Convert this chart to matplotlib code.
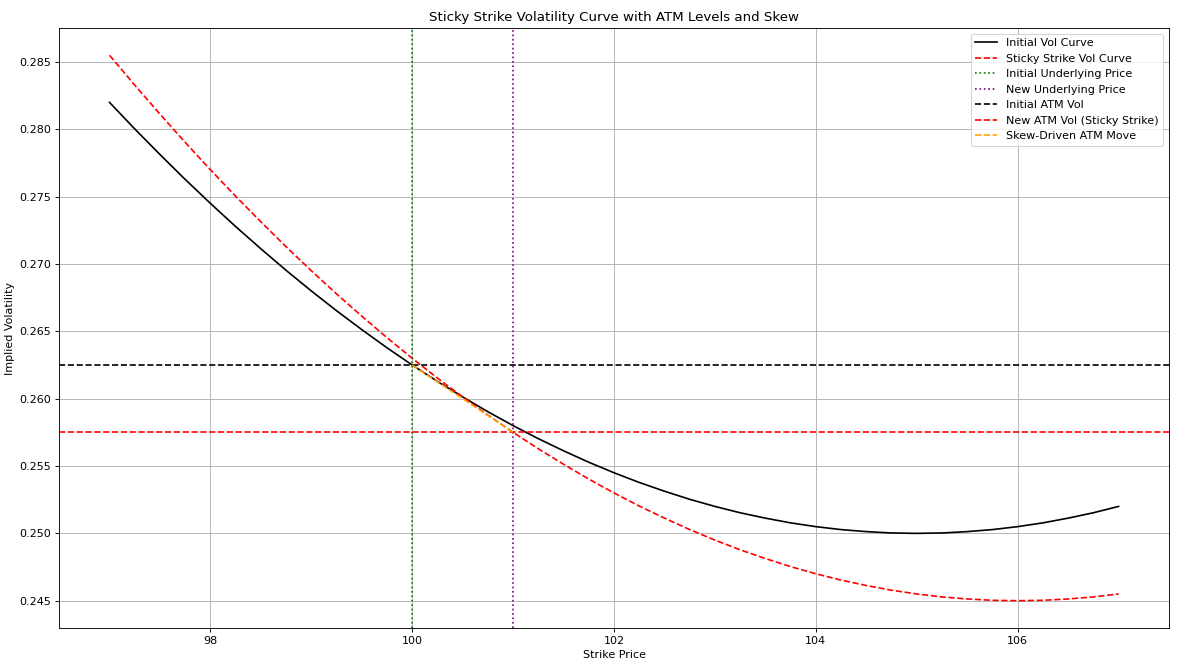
import matplotlib.pyplot as plt

# strikes and vols
strikes = [97.0, 97.25, 97.5, 97.75, 98.0, 98.25, 98.5, 98.75, 99.0, 99.25, 99.5, 99.75,
           100.0, 100.25, 100.5, 100.75, 101.0, 101.25, 101.5, 101.75, 102.0, 102.25, 102.5, 102.75,
           103.0, 103.25, 103.5, 103.75, 104.0, 104.25, 104.5, 104.75, 105.0, 105.25, 105.5, 105.75,
           106.0, 106.25, 106.5, 106.75, 107.0]
initial_vol = [0.28200, 0.28003, 0.27813, 0.27628, 0.27450, 0.27278, 0.27113, 0.26953, 0.26800, 0.26653,
               0.26513, 0.26378, 0.26250, 0.26128, 0.26013, 0.25903, 0.25800, 0.25703, 0.25613, 0.25528,
               0.25450, 0.25378, 0.25313, 0.25253, 0.25200, 0.25153, 0.25113, 0.25078, 0.25050, 0.25028,
               0.25013, 0.25003, 0.25000, 0.25003, 0.25013, 0.25028, 0.25050, 0.25078, 0.25113, 0.25153,
               0.25200]
sticky_vol = [0.28550, 0.28328, 0.28113, 0.27903, 0.27700, 0.27503, 0.27313, 0.27128, 0.26950, 0.26778,
              0.26613, 0.26453, 0.26300, 0.26153, 0.26013, 0.25878, 0.25750, 0.25628, 0.25513, 0.25403,
              0.25300, 0.25203, 0.25113, 0.25028, 0.24950, 0.24878, 0.24813, 0.24753, 0.24700, 0.24653,
              0.24613, 0.24578, 0.24550, 0.24528, 0.24513, 0.24503, 0.24500, 0.24503, 0.24513, 0.24528,
              0.24550]

spot_initial = 100
spot_new = 101
atm_initial = 0.2625
atm_new = 0.2575
skew_move_x = [100, 101]
skew_move_y = [0.2625, 0.2575]

DPI = 80
fig, ax = plt.subplots(figsize=(1182 / DPI, 667 / DPI), dpi=DPI)
fig.subplots_adjust(left=0.050, right=0.989, top=0.958, bottom=0.0585)

ax.plot(strikes, initial_vol, color='black', label='Initial Vol Curve')
ax.plot(strikes, sticky_vol, 'r--', label='Sticky Strike Vol Curve')
ax.axvline(spot_initial, color='green', linestyle=':', label='Initial Underlying Price')
ax.axvline(spot_new, color='purple', linestyle=':', label='New Underlying Price')
ax.axhline(atm_initial, color='black', linestyle='--', label='Initial ATM Vol')
ax.axhline(atm_new, color='red', linestyle='--', label='New ATM Vol (Sticky Strike)')
ax.plot(skew_move_x, skew_move_y, color='orange', linestyle='--', label='Skew-Driven ATM Move')

ax.set_title('Sticky Strike Volatility Curve with ATM Levels and Skew')
ax.set_xlabel('Strike Price')
ax.set_ylabel('Implied Volatility')
ax.legend(loc='upper right')
ax.grid(True)

fig.savefig('out.png', dpi=DPI)
